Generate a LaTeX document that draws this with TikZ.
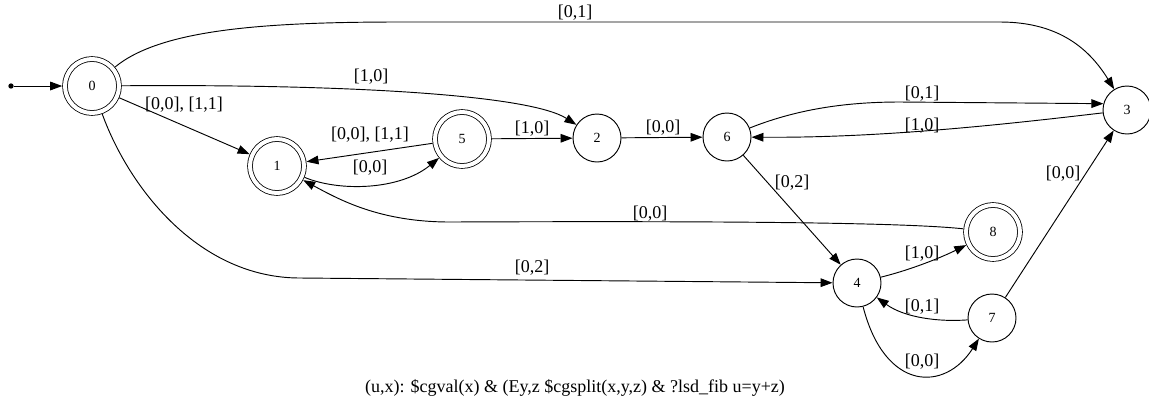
\documentclass[tikz,border=0pt]{standalone}
\usepackage{fontspec}
\setmainfont{Liberation Serif}
\usetikzlibrary{arrows.meta}
\begin{document}
\begin{tikzpicture}[x=0.75pt,y=-0.75pt,
  state/.style={circle,draw,line width=0.7pt,minimum size=36pt,inner sep=0pt,font=\fontsize{10.5}{12}\selectfont},
  accept/.style={circle,draw,line width=0.6pt,double,double distance=3pt,minimum size=40.5pt,inner sep=0pt,outer sep=2.1pt,font=\fontsize{10.5}{12}\selectfont},
  edge/.style={line width=0.7pt,-{Triangle[length=9pt,width=6.5pt]}},
  lbl/.style={inner sep=0pt,font=\fontsize{13.5}{15}\selectfont}]
\useasboundingbox (0,0) rectangle (1149,405);
% nodes
\node[circle,fill,inner sep=0pt,minimum size=4pt] (start) at (11,86) {};
\node[accept] (n0) at (92,86) {0};
\node[accept] (n1) at (277,166) {1};
\node[accept] (n5) at (462,139) {5};
\node[state] (n2) at (597,138) {2};
\node[state] (n6) at (727,137) {6};
\node[state] (n3) at (1127,110) {3};
\node[accept] (n8) at (993,232) {8};
\node[state] (n4) at (857,283) {4};
\node[state] (n7) at (992,318) {7};
% edges
\draw[edge] (start) -- (n0);
\draw[edge] (n0) .. controls (160,30) and (260,22) .. (400,22) -- (1000,22) .. controls (1060,22) and (1090,50) .. (n3);
\draw[edge] (n0) .. controls (350,84) and (530,95) .. (n2);
\draw[edge] (n0) -- (n1);
\draw[edge] (n5) -- (n1);
\draw[edge] (n1) .. controls (340,192) and (400,190) .. (n5);
\draw[edge] (n5) -- (n2);
\draw[edge] (n2) -- (n6);
\draw[edge] (n6) .. controls (800,108) and (850,102) .. (900,102) -- (n3.165);
\draw[edge] (n3) .. controls (1000,125) and (880,138) .. (n6);
\draw[edge] (n6) -- (n4);
\draw[edge] (n8) .. controls (900,222) and (700,221) .. (450,222) .. controls (380,222) and (340,200) .. (n1);
\draw[edge] (n0) .. controls (130,190) and (200,278) .. (300,278) -- (n4);
\draw[edge] (n4) .. controls (910,270) and (940,258) .. (n8);
\draw[edge] (n7) .. controls (940,322) and (905,318) .. (n4);
\draw[edge] (n4) .. controls (885,392) and (945,392) .. (n7);
\draw[edge] (n7) -- (n3);
% labels
\node[lbl] (l03) at (575,13) {[0,1]};
\node[lbl] (l02) at (371,77) {[1,0]};
\node[lbl] (l01) at (184,105) {[0,0], [1,1]};
\node[lbl] (l51) at (370,135) {[0,0], [1,1]};
\node[lbl] (l15) at (370,168) {[0,0]};
\node[lbl] (l52) at (532,129) {[1,0]};
\node[lbl] (l26) at (663,128) {[0,0]};
\node[lbl] (l63) at (922,94) {[0,1]};
\node[lbl] (l36) at (922,126) {[1,0]};
\node[lbl] (l64) at (792,183) {[0,2]};
\node[lbl] (l81) at (650,214) {[0,0]};
\node[lbl] (l04) at (532,268) {[0,2]};
\node[lbl] (l48) at (922,254) {[1,0]};
\node[lbl] (l74) at (922,307) {[0,1]};
\node[lbl] (l47) at (922,362) {[0,0]};
\node[lbl] (l73) at (1063,174) {[0,0]};
\node[lbl] (cap) at (575,388) {(u,x): \$cgval(x) \& (Ey,z \$cgsplit(x,y,z) \& ?lsd\_fib u=y+z)};
\end{tikzpicture}
\end{document}
